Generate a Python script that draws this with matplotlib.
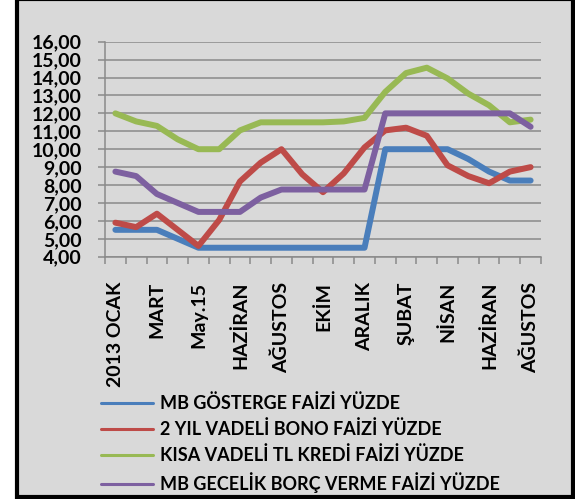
# Turkish interest rates 2013-2014, Excel-style line chart

import numpy as np
import matplotlib
matplotlib.use('Agg')
import matplotlib.pyplot as plt
from matplotlib.patches import Rectangle
from matplotlib.ticker import FixedLocator, FuncFormatter

plt.rcParams['font.family'] = ['Lato', 'DejaVu Sans']
plt.rcParams['font.weight'] = 'bold'

# Data
tick_labels = ['2013 OCAK', 'MART', 'May.15', 'HAZİRAN', 'AĞUSTOS', 'EKİM',
               'ARALIK', 'ŞUBAT', 'NİSAN', 'HAZİRAN', 'AĞUSTOS']
series_names = ['MB GÖSTERGE FAİZİ YÜZDE',
                '2 YIL VADELİ BONO FAİZİ YÜZDE',
                'KISA VADELİ TL KREDİ FAİZİ YÜZDE',
                'MB GECELİK BORÇ VERME FAİZİ YÜZDE']
mb_gosterge = [5.5, 5.5, 5.5, 5.0, 4.5, 4.5, 4.5, 4.5, 4.5, 4.5, 4.5,
               4.5, 4.5, 10.0, 10.0, 10.0, 10.0, 9.45, 8.75, 8.25, 8.25]
bono_2yil = [5.9, 5.65, 6.4, 5.5, 4.6, 6.05, 8.2, 9.25, 10.0, 8.6, 7.6,
             8.65, 10.1, 11.05, 11.2, 10.75, 9.1, 8.5, 8.1, 8.75, 9.0]
kisa_kredi = [12.0, 11.55, 11.3, 10.55, 10.0, 10.0, 11.05, 11.5, 11.5, 11.5, 11.5,
              11.55, 11.75, 13.2, 14.25, 14.55, 13.95, 13.1, 12.45, 11.5, 11.65]
gecelik_borc = [8.75, 8.5, 7.5, 7.0, 6.5, 6.5, 6.5, 7.3, 7.75, 7.75, 7.75,
                7.75, 7.75, 12.0, 12.0, 12.0, 12.0, 12.0, 12.0, 12.0, 11.25]

colors = ['#4a7ebb', '#be4b48', '#98b954', '#7d60a0']
grid_color = '#8a8a8a'

W, H = 575, 499
fig = plt.figure(figsize=(W / 100, H / 100), dpi=100, facecolor='white')

# gray chart area with black frame
fig.patches.append(Rectangle((17 / W, 2 / H), (573 - 17) / W, (H + 1 - 2) / H,
                             transform=fig.transFigure, facecolor='#d9d9d9',
                             edgecolor='black', linewidth=3, zorder=-5))

ax = fig.add_axes([105 / W, 1 - 256.7 / H, (541 - 105) / W, (256.7 - 41.7) / H])
ax.set_facecolor('none')

x = np.arange(len(mb_gosterge))
all_series = [mb_gosterge, bono_2yil, kisa_kredi, gecelik_borc]
for vals, name, c in zip(all_series, series_names, colors):
    ax.plot(x, vals, color=c, linewidth=4.3, label=name,
            solid_capstyle='round', solid_joinstyle='round', zorder=3)

ax.set_xlim(-0.5, len(x) - 0.5)
ax.set_ylim(4, 16)

# y axis
ax.set_yticks(np.arange(4, 17, 1))
ax.yaxis.set_major_formatter(FuncFormatter(lambda v, p: f'{v:.2f}'.replace('.', ',')))
ax.tick_params(axis='y', length=5, width=1.1, color=grid_color, pad=12, labelsize=14)
ax.grid(axis='y', color=grid_color, linewidth=1.1, zorder=1)

# x axis: labels on every second category, tick marks between categories
ax.set_xticks(x[::2])
ax.set_xticklabels(tick_labels, rotation=90, fontsize=14)
ax.tick_params(axis='x', which='major', length=0, pad=18)
ax.xaxis.set_minor_locator(FixedLocator(np.arange(-0.5, len(x), 1)))
ax.tick_params(axis='x', which='minor', length=5, width=1.1, color=grid_color)

for side in ['top', 'right']:
    ax.spines[side].set_visible(False)
for side in ['left', 'bottom']:
    ax.spines[side].set_color(grid_color)
    ax.spines[side].set_linewidth(1.1)

leg = fig.legend(loc='upper left', bbox_to_anchor=(101 / W, 1 - 394 / H),
                 frameon=False, fontsize=13, handlelength=2.9, handletextpad=0.35,
                 labelspacing=0.45, borderpad=0, borderaxespad=0)
for line in leg.get_lines():
    line.set_linewidth(2.2)

fig.savefig('out.png', dpi=100, facecolor='white')
